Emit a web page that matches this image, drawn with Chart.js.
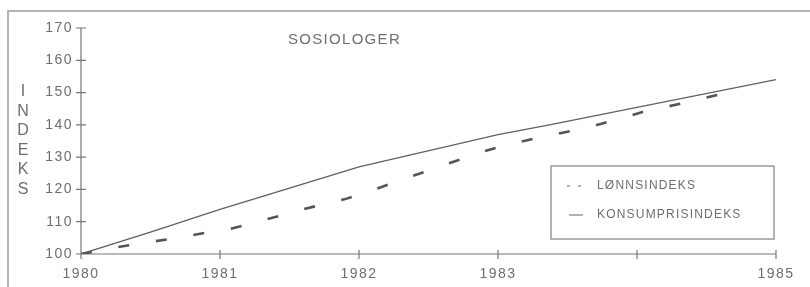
<!DOCTYPE html>
<html lang="no">
<head>
  <meta charset="UTF-8" />
  <title>Sosiologer</title>
  <script src="https://cdn.jsdelivr.net/npm/chart.js"></script>
  <style>
    body {
      margin: 0;
      background: #fff;
      font-family: "Liberation Sans", Arial, sans-serif;
    }
    #wrap {
      position: relative;
      width: 810px;
      height: 287px;
    }
  </style>
</head>
<body>
  <div id="wrap">
    <canvas id="chart" width="810" height="287"></canvas>
  </div>

  <script>
    // Data
    const chartTitle = 'SOSIOLOGER';
    const axisTitle = 'INDEKS';
    const seriesNames = ['LØNNSINDEKS', 'KONSUMPRISINDEKS'];

    const lonnYears = [1980, 1980.3, 1980.63, 1980.93, 1981.06, 1981.34, 1981.62, 1981.9, 1982.06,
                       1982.33, 1982.6, 1982.87, 1983.05, 1983.34, 1983.63, 1983.89, 1984.04, 1984.33, 1984.65];
    const lonnValues = [100, 102.4, 104.6, 106.8, 107.6, 110.8, 114.1, 117.0, 119.2,
                        123.3, 127.4, 131.4, 133.7, 136.5, 139.0, 142.1, 144.0, 146.7, 150.0];

    const konsumYears = [1980, 1980.5, 1981, 1982, 1983, 1983.37, 1985];
    const konsumValues = [100, 106.8, 113.8, 127.0, 137.0, 140.0, 154.0];

    const xTicks = [1980, 1981, 1982, 1983, 1984, 1985];
    const xTickLabels = ['1980', '1981', '1982', '1983', '', '1985'];
    const yTicks = [100, 110, 120, 130, 140, 150, 160, 170];

    const toPoints = (xs, ys) => xs.map((x, i) => ({ x: x, y: ys[i] }));

    const textColor = '#6e6e6e';
    const lineColor = '#555';
    const fontFamily = '"Liberation Sans", Arial, sans-serif';

    // Frame, crossing axis ticks, title and legend
    const decor = {
      id: 'decor',
      beforeDraw(chart) {
        // wide letter spacing like the typewriter-ish original
        chart.ctx.letterSpacing = '1.5px';
      },
      beforeDatasetsDraw(chart) {
        const ctx = chart.ctx;
        const xs = chart.scales.x, ys = chart.scales.y;
        const a = chart.chartArea;
        ctx.save();
        // outer frame
        ctx.strokeStyle = '#b4b4b4';
        ctx.lineWidth = 2;
        ctx.beginPath();
        ctx.moveTo(8, 287);
        ctx.lineTo(8, 11);
        ctx.lineTo(812, 11);
        ctx.stroke();
        // axes
        ctx.strokeStyle = '#777';
        ctx.lineWidth = 1.2;
        ctx.beginPath();
        ctx.moveTo(a.left, ys.getPixelForValue(170));
        ctx.lineTo(a.left, a.bottom);
        ctx.lineTo(xs.getPixelForValue(1985), a.bottom);
        yTicks.forEach(v => {
          const y = ys.getPixelForValue(v);
          ctx.moveTo(a.left - 5, y);
          ctx.lineTo(a.left + 5, y);
        });
        xTicks.forEach(v => {
          const x = xs.getPixelForValue(v);
          ctx.moveTo(x, a.bottom - 4);
          ctx.lineTo(x, a.bottom + 5);
        });
        ctx.stroke();
        ctx.restore();
      },
      afterDraw(chart) {
        const ctx = chart.ctx;
        ctx.save();
        ctx.fillStyle = textColor;
        ctx.textBaseline = 'middle';
        // title
        ctx.letterSpacing = '1.3px';
        ctx.font = '15px ' + fontFamily;
        ctx.textAlign = 'left';
        ctx.fillText(chartTitle, 288, 40);
        // vertical axis title, one letter per row
        ctx.letterSpacing = '0px';
        ctx.font = '16px ' + fontFamily;
        ctx.textAlign = 'center';
        axisTitle.split('').forEach((ch, i) => {
          ctx.fillText(ch, 23, 92 + i * 19.5);
        });
        // legend
        ctx.strokeStyle = '#8a8a8a';
        ctx.lineWidth = 1.3;
        ctx.strokeRect(551, 166, 223, 73);
        ctx.font = '12px ' + fontFamily;
        ctx.letterSpacing = '1.2px';
        ctx.textAlign = 'left';
        ctx.fillText(seriesNames[0], 597, 186);
        ctx.fillText(seriesNames[1], 597, 215);
        ctx.strokeStyle = '#666';
        ctx.lineWidth = 1.2;
        ctx.beginPath();
        ctx.moveTo(567, 186); ctx.lineTo(570, 186);
        ctx.moveTo(578, 186); ctx.lineTo(581, 186);
        ctx.moveTo(569, 215); ctx.lineTo(583, 215);
        ctx.stroke();
        ctx.restore();
      }
    };

    new Chart(document.getElementById('chart'), {
      type: 'line',
      data: {
        datasets: [
          {
            label: seriesNames[0],
            data: toPoints(lonnYears, lonnValues),
            borderColor: lineColor,
            borderWidth: 2.6,
            borderDash: [11, 27],
            pointRadius: 0,
            tension: 0
          },
          {
            label: seriesNames[1],
            data: toPoints(konsumYears, konsumValues),
            borderColor: '#606060',
            borderWidth: 1.3,
            pointRadius: 0,
            tension: 0
          }
        ]
      },
      plugins: [decor],
      options: {
        responsive: false,
        animation: false,
        layout: { padding: { top: 28, right: 34, left: 0, bottom: 0 } },
        plugins: {
          legend: { display: false },
          tooltip: { enabled: false }
        },
        scales: {
          x: {
            type: 'linear',
            min: 1980,
            max: 1985,
            afterFit: s => { s.height = 33; },
            afterBuildTicks: s => { s.ticks = xTicks.map(v => ({ value: v })); },
            grid: { display: false, drawTicks: false },
            border: { display: false },
            ticks: {
              padding: 12,
              maxRotation: 0,
              color: textColor,
              font: { size: 14, family: fontFamily },
              callback: v => xTickLabels[xTicks.indexOf(v)]
            }
          },
          y: {
            min: 100,
            max: 170,
            afterFit: s => { s.width = 81; },
            afterBuildTicks: s => { s.ticks = yTicks.map(v => ({ value: v })); },
            grid: { display: false, drawTicks: false },
            border: { display: false },
            ticks: {
              padding: 8,
              color: textColor,
              font: { size: 14, family: fontFamily },
              callback: v => String(v)
            }
          }
        }
      }
    });
  </script>
</body>
</html>
